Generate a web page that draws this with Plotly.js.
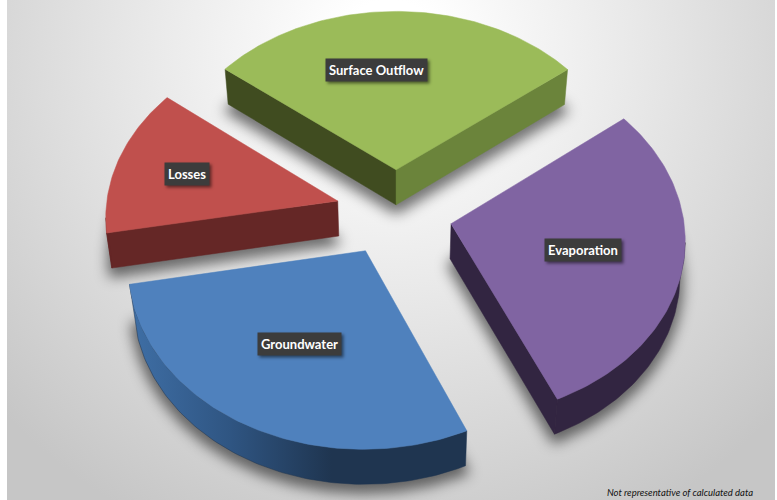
<!DOCTYPE html>
<html>
<head>
<meta charset="utf-8">
<script src="https://cdn.plot.ly/plotly-3.0.1.min.js"></script>
<style>
html,body{margin:0;padding:0;background:#fff;}
#wrap{position:relative;width:777px;height:500px;overflow:hidden;}
#bg{position:absolute;left:7px;top:0;width:768px;height:500px;
background:radial-gradient(circle at 383px 50px,#fff 0,#fff 50px,#e8e8e8 250px,#d6d6d6 400px,#c6c6c6 530px);}
#chart{position:absolute;left:0;top:0;width:777px;height:500px;}
.annotation rect.bg{filter:drop-shadow(2px 2px 1.5px rgba(0,0,0,.5));}
</style>
</head>
<body>
<div id="wrap"><div id="bg"></div><div id="chart"></div></div>
<script>
// Data (shares of the pie, percent)
var sliceNames   = ["Surface Outflow", "Evaporation", "Groundwater", "Losses"];
var sliceShares  = [28.83, 28.89, 28.78, 13.5];
var sliceExplode = [0.24, 0.25, 0.25, 0.26];
var topColors    = ["#9BBB59", "#8064A2", "#4F81BD", "#C0504D"];
var wallColors   = ["#404C20", "#322541", "#1F3550", "#652726"];
var labelX = [376.5, 583, 299, 187];
var labelY = [70, 249.5, 343.5, 174];
var footnote = "Not representative of calculated data";
var drawOrder = [0, 3, 1, 2];

// Projection of the tilted pie on to the axes
var cx = 396, cy = 211.5, R = 232, V = 176.8, p = 0.077, depth = 35, taper = 0.018;
var startAngle = 141.8;
var nudge = [[0, 0], [-1.5, 1.5], [-3, -0.5], [0, 0.5]];
function proj(u, v, i) { var w = 1 + p * v; return [cx + R * u / w + nudge[i][0], cy - V * v / w + nudge[i][1]]; }
function drop(P) { return [P[0] - (P[0] - cx) * taper, P[1] + depth]; }
function rad(d) { return d * Math.PI / 180; }

var total = sliceShares.reduce(function (a, b) { return a + b; }, 0);
var geoms = [], ang = startAngle;
sliceShares.forEach(function (s, i) {
  var sweep = s / total * 360, a0 = ang, a1 = ang - sweep, mid = (a0 + a1) / 2;
  var ex = sliceExplode[i] * Math.cos(rad(mid)), ey = sliceExplode[i] * Math.sin(rad(mid));
  var apex = proj(ex, ey, i), arc = [], n = Math.round(sweep);
  for (var k = 0; k <= n; k++) {
    var t = rad(a0 + (a1 - a0) * k / n);
    arc.push(proj(ex + Math.cos(t), ey + Math.sin(t), i));
  }
  geoms.push({ apex: apex, arc: arc });
  ang = a1;
});

function poly(pts, fill, lineColor, lineWidth, extra) {
  var tr = {
    type: "scatter", mode: "lines", fill: "toself", hoverinfo: "skip", showlegend: false,
    x: pts.map(function (q) { return q[0]; }).concat([pts[0][0]]),
    y: pts.map(function (q) { return q[1]; }).concat([pts[0][1]]),
    fillcolor: fill,
    line: { color: lineColor || fill, width: lineWidth === undefined ? 0.5 : lineWidth }
  };
  if (extra) for (var key in extra) tr[key] = extra[key];
  return tr;
}
function outline(g) { return [g.apex].concat(g.arc); }
function centroid(pts) {
  var a = 0, b = 0; pts.forEach(function (q) { a += q[0]; b += q[1]; });
  return [a / pts.length, b / pts.length];
}
function faces(P, Q, c) {
  var nx = Q[1] - P[1], ny = P[0] - Q[0];
  if (nx * ((P[0] + Q[0]) / 2 - c[0]) + ny * ((P[1] + Q[1]) / 2 - c[1]) < 0) ny = -ny;
  return ny > 0;
}

var traces = [];
// soft shadows under the slices (blurred after plotting)
drawOrder.forEach(function (i) {
  var pts = outline(geoms[i]).map(drop).map(function (q) { return [q[0], q[1] + 6]; });
  traces.push(poly(pts, "rgba(0,0,0,0.5)", "rgba(0,0,0,0.5)", 6));
});
var shadowCount = traces.length;

// side walls and top faces
var sideShades = { 0: ["#404C20", "#6B843B"] };
drawOrder.forEach(function (i) {
  var g = geoms[i], pts = outline(g), c = centroid(pts);
  var first = g.arc[0], last = g.arc[g.arc.length - 1];
  [[g.apex, first, 0], [last, g.apex, 1]].forEach(function (e) {
    if (faces(e[0], e[1], c)) {
      var col = sideShades[i] ? sideShades[i][e[2]] : wallColors[i];
      traces.push(poly([e[0], e[1], drop(e[1]), drop(e[0])], col));
    }
  });
  var vis = [];
  for (var k = 0; k < g.arc.length - 1; k++) {
    if (faces(g.arc[k], g.arc[k + 1], c)) { if (!vis.length) vis.push(g.arc[k]); vis.push(g.arc[k + 1]); }
  }
  if (vis.length > 1) {
    var wall = vis.concat(vis.slice().reverse().map(drop));
    var extra = null;
    if (i === 2) {
      extra = { fillgradient: { type: "horizontal", start: 129, stop: 467,
        colorscale: [[0, "#3F6FA6"], [0.3, "#2F5582"], [0.6, "#1F3550"], [1, "#1F3550"]] } };
    }
    traces.push(poly(wall, wallColors[i], wallColors[i], 0.5, extra));
  }
  traces.push(poly(pts, topColors[i]));
});

var annotations = sliceNames.map(function (name, i) {
  return {
    x: labelX[i], y: labelY[i], xref: "x", yref: "y", text: name, showarrow: false,
    font: { family: "Lato, 'Open Sans', sans-serif", size: 13, color: "#ffffff", weight: 700 },
    bgcolor: "#3C3C3C", borderpad: 3
  };
});
annotations.push({
  x: 755, y: 492, xref: "x", yref: "y", xanchor: "right", text: "<i>" + footnote + "</i>", showarrow: false,
  font: { family: "Lato, 'Open Sans', sans-serif", size: 9.5, color: "#111111" }
});

Plotly.newPlot("chart", traces, {
  width: 777, height: 500,
  margin: { l: 0, r: 0, t: 0, b: 0 },
  paper_bgcolor: "rgba(0,0,0,0)", plot_bgcolor: "rgba(0,0,0,0)",
  showlegend: false, hovermode: false,
  xaxis: { range: [0, 777], visible: false, fixedrange: true },
  yaxis: { range: [500, 0], visible: false, fixedrange: true },
  annotations: annotations
}, { displayModeBar: false, staticPlot: true }).then(function (gd) {
  var groups = document.querySelectorAll("#chart .scatterlayer .trace");
  for (var i = 0; i < shadowCount; i++) { groups[i].style.filter = "blur(7px)"; }
});
</script>
</body>
</html>
